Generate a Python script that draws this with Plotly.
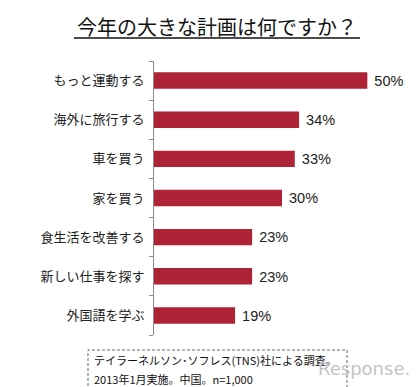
import plotly.graph_objects as go

categories = ["もっと運動する", "海外に旅行する", "車を買う", "家を買う", "食生活を改善する", "新しい仕事を探す", "外国語を学ぶ"]
values = [50, 34, 33, 30, 23, 23, 19]
title_text = "今年の大きな計画は何ですか？"
note_lines = ["テイラーネルソン･ソフレス(TNS)社による調査。", "2013年1月実施。中国。n=1,000"]

W, H = 417, 387
ML, MR, MT, MB = 146, 15, 53, 60
PW, PH = W - ML - MR, H - MT - MB


def px(x):
    return (x - ML) / PW


def py(y):
    return (H - MB - y) / PH


fig = go.Figure(go.Bar(
    x=values, y=categories, orientation="h",
    marker=dict(color="#AE2335", line=dict(width=0)),
    width=0.42,
    text=[f" {v}%" for v in values], textposition="outside",
    textfont=dict(family="Liberation Sans, Arial", size=15, color="#222222"),
    cliponaxis=False,
))

fig.update_layout(
    width=W, height=H,
    margin=dict(l=ML, r=MR, t=MT, b=MB),
    paper_bgcolor="white", plot_bgcolor="white",
    showlegend=False,
    xaxis=dict(range=[0, 60], visible=False, showgrid=False, zeroline=False),
    yaxis=dict(
        categoryorder="array", categoryarray=categories[::-1],
        showline=True, linecolor="#8c8c8c", linewidth=1,
        ticks="outside", ticklen=4, tickcolor="#8c8c8c", tickson="boundaries",
        tickfont=dict(family="Noto Sans CJK JP", size=13, color="#222222"),
        ticklabelstandoff=6,
        showgrid=False, zeroline=False,
    ),
    annotations=[
        dict(text=title_text, x=px(209), y=py(18), xref="paper", yref="paper",
             showarrow=False, xanchor="center", yanchor="middle",
             font=dict(family="Noto Sans CJK JP", size=20, color="#111111")),
        dict(text=note_lines[0], x=px(84), y=py(352), xref="paper", yref="paper",
             showarrow=False, xanchor="left", yanchor="middle",
             font=dict(family="Noto Sans CJK JP", size=11, color="#111111")),
        dict(text=note_lines[1], x=px(84), y=py(371), xref="paper", yref="paper",
             showarrow=False, xanchor="left", yanchor="middle",
             font=dict(family="Noto Sans CJK JP", size=11, color="#111111")),
        dict(text="Response.", x=px(356), y=py(360), xref="paper", yref="paper",
             showarrow=False, xanchor="center", yanchor="middle",
             font=dict(family="DejaVu Sans", size=18, color="#c4c4c4")),
    ],
    shapes=[
        dict(type="line", xref="paper", yref="paper",
             x0=px(66), x1=px(352), y0=py(30), y1=py(30),
             line=dict(color="#111111", width=1.5)),
        dict(type="rect", xref="paper", yref="paper",
             x0=px(80), x1=px(339), y0=py(381), y1=py(342),
             line=dict(color="#666666", width=1, dash="3px,2px")),
    ],
)

fig.write_html("out.html")
